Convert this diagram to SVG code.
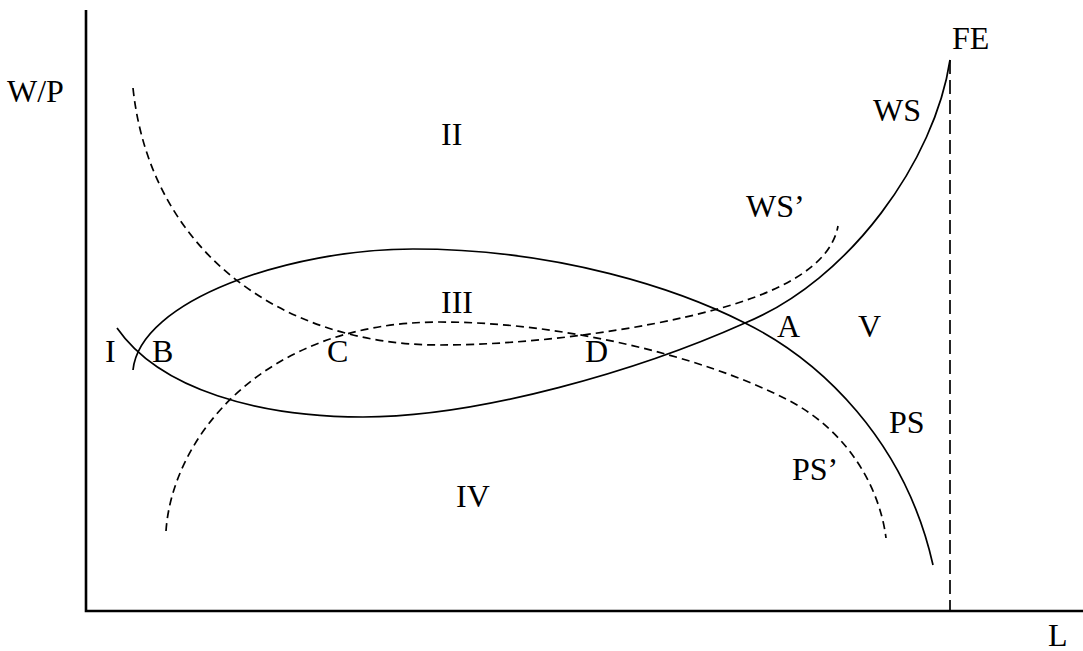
<svg xmlns="http://www.w3.org/2000/svg" width="1083" height="651" viewBox="0 0 1083 651">
<style>
.t{font-family:"Liberation Serif","Times New Roman",serif;font-size:32px;fill:#000}
.s{fill:none;stroke:#000;stroke-width:1.7}
.d{fill:none;stroke:#000;stroke-width:1.7;stroke-dasharray:8,5}
.fe{fill:none;stroke:#000;stroke-width:1.7;stroke-dasharray:14,6}
.ax{fill:none;stroke:#000;stroke-width:2.6}
</style>
<rect width="1083" height="651" fill="#fff"/>
<g id="axes">
<path class="ax" d="M86,10 V611 H1083"/>
</g>
<g id="connectors">
<path id="PS" class="s" d="M133,370 C140,300 290,249 413,249 C560,249 680,290 745,323 C820,360 905,440 933,565"/>
<path id="WS" class="s" d="M117,328 C160,390 260,417 363,417 C480,417 640,370 745,323 C850,280 935,160 950,60"/>
<path id="WSp" class="d" d="M133,88 C150,250 280,345 440,345 C530,345 640,330 714,310 C770,295 830,270 838,226"/>
<path id="PSp" class="d" d="M166,531 C172,440 260,322 440,322 C560,322 700,355 788,400 C850,432 880,490 886,538"/>
<path id="FEline" class="fe" d="M950,60 V611"/>
</g>
<g id="labels">
<text class="t" x="7" y="102">W/P</text>
<text class="t" x="1048" y="646">L</text>
<text class="t" x="952" y="49">FE</text>
<text class="t" x="873" y="121">WS</text>
<text class="t" x="746" y="217">WS’</text>
<text class="t" x="441" y="145">II</text>
<text class="t" x="441" y="313">III</text>
<text class="t" x="105" y="362">I</text>
<text class="t" x="152" y="362">B</text>
<text class="t" x="327" y="362">C</text>
<text class="t" x="585" y="362">D</text>
<text class="t" x="777" y="337">A</text>
<text class="t" x="858" y="337">V</text>
<text class="t" x="889" y="433">PS</text>
<text class="t" x="792" y="480">PS’</text>
<text class="t" x="456" y="507">IV</text>
</g>
</svg>
